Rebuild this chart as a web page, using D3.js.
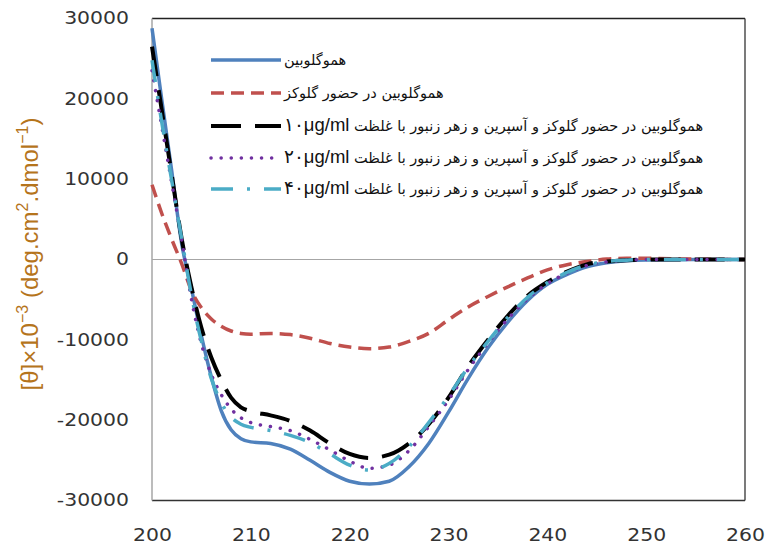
<!DOCTYPE html>
<html>
<head>
<meta charset="utf-8">
<script src="https://cdn.jsdelivr.net/npm/d3@7/dist/d3.min.js"></script>
<style>
    body { margin: 0; background: #fff; }
    svg { display: block; }
</style>
</head>
<body>
<div class="chart"></div>
<script>
// wavelength (nm)
var wavelengths = [200, 201, 202, 203, 204, 205, 206, 207, 208, 209, 210, 212, 214, 216, 218, 220, 222, 224, 226, 228, 230, 232, 234, 236, 238, 240, 242, 244, 246, 248, 250, 255, 260];

var hb = [28800, 19800, 11000, 2000, -3700, -9500, -14600, -18800, -21200, -22300, -22700, -22900, -23600, -25000, -26500, -27600, -27950, -27600, -25800, -22900, -19000, -14800, -11000, -7800, -5100, -3100, -1850, -900, -400, -150, -50, 0, 0];
var hbGlucose = [9300, 5700, 2500, -500, -3900, -6000, -7400, -8300, -8900, -9200, -9300, -9200, -9350, -9800, -10450, -10900, -11100, -10900, -10200, -9200, -7500, -5900, -4600, -3400, -2300, -1300, -650, -250, 50, 150, 150, 50, 0];
var hb10 = [26500, 18500, 10500, 2600, -3500, -8500, -12200, -15000, -17200, -18400, -18900, -19400, -20100, -21300, -22900, -24200, -24700, -24300, -22900, -20500, -17200, -13300, -10000, -7000, -4500, -2800, -1500, -600, -250, -80, 0, 0, 0];
var hb20 = [23500, 16500, 9500, 2500, -5000, -10500, -14300, -16800, -18600, -19700, -20300, -20800, -21300, -22400, -23700, -25100, -26000, -25600, -23800, -20800, -17500, -13700, -10400, -7400, -4900, -3000, -1700, -750, -300, -100, 0, 0, 0];
var hb40 = [24800, 17000, 9800, 2600, -4500, -10200, -14800, -17800, -19600, -20500, -20900, -21300, -21900, -22800, -24200, -25600, -26200, -25400, -23300, -20300, -17000, -13400, -10200, -7200, -4700, -2900, -1600, -700, -250, -80, 0, 0, 0];

var xTicks = [200, 210, 220, 230, 240, 250, 260];
var yTicks = [30000, 20000, 10000, 0, -10000, -20000, -30000];

var legendNames = [
    "هموگلوبین",
    "هموگلوبین در حضور گلوکز",
    "هموگلوبین در حضور گلوکز و آسپرین و زهر زنبور با غلظت ",
    "هموگلوبین در حضور گلوکز و آسپرین و زهر زنبور با غلظت ",
    "هموگلوبین در حضور گلوکز و آسپرین و زهر زنبور با غلظت "
];
var legendConc = [null, null, "۱۰μg/ml", "۲۰μg/ml", "۴۰μg/ml"];

var series = [
    { values: hb, color: "#4F81BD", width: 3.5, dash: null, cap: "butt" },
    { values: hbGlucose, color: "#C0504D", width: 3.5, dash: "13,7", cap: "butt" },
    { values: hb10, color: "#000000", width: 4, dash: "30,14", cap: "butt" },
    { values: hb20, color: "#7030A0", width: 3.5, dash: "0.1,10", cap: "round" },
    { values: hb40, color: "#4BACC6", width: 3.5, dash: "22,14,3,14", cap: "butt" }
];

var margin = { top: 18.5, right: 21, bottom: 44.5, left: 152 };
var W = 766, H = 545;
var width = W - margin.left - margin.right;
var height = H - margin.top - margin.bottom;
var stretch = 1.2; // the source picture is widened

var x = d3.scaleLinear().domain([200, 260]).range([0, width]);
var y = d3.scaleLinear().domain([-30000, 30000]).range([height, 0]);

var svg = d3.select(".chart").append("svg")
    .attr("width", W)
    .attr("height", H);

var g = svg.append("g")
    .attr("transform", "translate(" + margin.left + "," + margin.top + ")");

// frame
g.append("line").attr("x1", 0).attr("x2", width).attr("y1", 0).attr("y2", 0)
    .attr("stroke", "#222").attr("stroke-width", 1.3);
g.append("line").attr("x1", width).attr("x2", width).attr("y1", 0).attr("y2", height)
    .attr("stroke", "#333").attr("stroke-width", 1.3);
g.append("line").attr("x1", 0).attr("x2", width).attr("y1", height).attr("y2", height)
    .attr("stroke", "#333").attr("stroke-width", 1.5);
g.append("line").attr("x1", 0).attr("x2", 0).attr("y1", 0).attr("y2", height)
    .attr("stroke", "#a6a6a6").attr("stroke-width", 1.5);
g.append("line").attr("x1", 0).attr("x2", width).attr("y1", y(0)).attr("y2", y(0))
    .attr("stroke", "#a6a6a6").attr("stroke-width", 1);

// axes (labels only)
var xAxis = g.append("g")
    .attr("transform", "translate(0," + height + ")")
    .call(d3.axisBottom(x).tickValues(xTicks).tickSize(0).tickPadding(28));
var yAxis = g.append("g")
    .call(d3.axisLeft(y).tickValues(yTicks).tickSize(0).tickPadding(23)
        .tickFormat(function (d) { return String(d); }));
[xAxis, yAxis].forEach(function (a) {
    a.select(".domain").remove();
    a.selectAll("text")
        .attr("fill", "#333")
        .style("font-family", "'DejaVu Sans', sans-serif")
        .style("font-size", "17px");
});
xAxis.selectAll("text").attr("transform", "scale(" + stretch + ",1)");
yAxis.selectAll("text")
    .attr("x", -23 / stretch)
    .attr("transform", "scale(" + stretch + ",1)");

// y label
svg.append("text")
    .attr("transform", "translate(38,254) rotate(-90)")
    .attr("text-anchor", "middle")
    .attr("fill", "#B5741C")
    .style("font-family", "'Liberation Sans', sans-serif")
    .style("font-size", "24px")
    .html('[θ]×10<tspan dy="-10" font-size="16px">−3</tspan><tspan dy="10"> (deg.cm</tspan><tspan dy="-10" font-size="16px">2</tspan><tspan dy="10">.dmol</tspan><tspan dy="-10" font-size="16px">−1</tspan><tspan dy="10">)</tspan>');

// curves
var line = d3.line()
    .x(function (d) { return x(d.w); })
    .y(function (d) { return y(d.v); })
    .curve(d3.curveMonotoneX);

series.forEach(function (s) {
    var pts = wavelengths.map(function (w, i) { return { w: w, v: s.values[i] }; });
    g.append("path")
        .datum(pts)
        .attr("fill", "none")
        .attr("stroke", s.color)
        .attr("stroke-width", s.width)
        .attr("stroke-linecap", s.cap)
        .attr("stroke-dasharray", s.dash)
        .attr("d", line);
});

// legend
var legend = svg.append("g");
var rowY = [60, 93, 126, 158, 189];
series.forEach(function (s, i) {
    legend.append("line")
        .attr("x1", 211).attr("x2", 281)
        .attr("y1", rowY[i]).attr("y2", rowY[i])
        .attr("stroke", s.color)
        .attr("stroke-width", s.width)
        .attr("stroke-linecap", s.cap)
        .attr("stroke-dasharray", s.dash);
    var t = legend.append("text")
        .attr("x", 284)
        .attr("y", rowY[i] + 5)
        .attr("direction", "rtl")
        .attr("text-anchor", "end")
        .attr("fill", "#111")
        .style("font-family", "'DejaVu Sans', sans-serif")
        .style("font-size", "14.5px");
    t.append("tspan").text(legendNames[i]);
    if (legendConc[i]) {
        t.append("tspan")
            .style("font-family", "'Liberation Sans', 'DejaVu Sans', sans-serif")
            .style("font-size", "18.5px")
            .text(legendConc[i]);
    }
});
</script>
</body>
</html>
